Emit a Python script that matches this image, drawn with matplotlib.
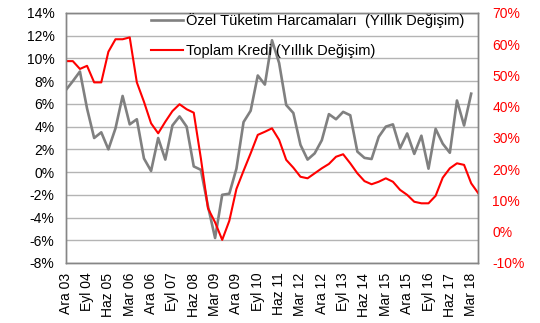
import numpy as np
import matplotlib.pyplot as plt

plt.rcParams['font.family'] = ['Liberation Sans', 'DejaVu Sans']

# quarterly series, Dec 2003 onwards
tuketim = [7.2, 8.0, 8.85, 5.6, 3.0, 3.5, 2.0, 3.85, 6.7, 4.2,
           4.65, 1.2, 0.1, 3.0, 1.1, 4.1, 4.9, 4.0, 0.5, 0.2,
           -3.0, -5.8, -2.0, -1.9, 0.3, 4.4, 5.4, 8.5, 7.7, 11.6,
           9.6, 5.9, 5.2, 2.4, 1.1, 1.65, 2.8, 5.1, 4.65, 5.3,
           5.0, 1.8, 1.25, 1.15, 3.1, 4.0, 4.2, 2.1, 3.4, 1.6,
           3.2, 0.3, 3.8, 2.5, 1.7, 6.3, 4.1, 6.9]
kredi = [54.6, 54.6, 52.1, 53.1, 47.8, 47.8, 57.6, 61.6, 61.6, 62.2,
         47.8, 41.6, 34.7, 31.5, 35.2, 38.6, 40.8, 39.2, 38.1, 23.5,
         7.5, 3.0, -2.6, 3.5, 13.7, 19.5, 25.1, 31.0, 32.0, 33.1,
         29.4, 23.0, 20.5, 17.6, 17.1, 18.7, 20.3, 21.7, 24.0, 24.8,
         21.9, 18.7, 16.2, 15.2, 16.0, 17.1, 16.0, 13.4, 11.8, 9.6,
         9.1, 9.1, 11.5, 17.3, 20.3, 21.9, 21.4, 15.5, 12.3]
etiketler = ['Ara 03', 'Eyl 04', 'Haz 05', 'Mar 06', 'Ara 06', 'Eyl 07',
             'Haz 08', 'Mar 09', 'Ara 09', 'Eyl 10', 'Haz 11', 'Mar 12',
             'Ara 12', 'Eyl 13', 'Haz 14', 'Mar 15', 'Ara 15', 'Eyl 16',
             'Haz 17', 'Mar 18']

fig = plt.figure(figsize=(5.4, 3.23), dpi=100)
ax = fig.add_axes([65.7/540, 1-263/323, (478.3-65.7)/540, 250/323])
ax2 = ax.twinx()

border = '#868686'
ax.set_ylim(-8, 14)
ax.set_yticks(np.arange(-8, 15, 2))
ax.set_yticklabels(['%d%%' % v for v in range(-8, 15, 2)])
ax.set_xlim(0, len(kredi) - 1)
ax.set_xticks(np.arange(0, 3*len(etiketler), 3))
ax.set_xticklabels(etiketler, rotation=90)
ax.grid(axis='y', color='#b4b4b4', lw=1.0)
ax.set_axisbelow(True)

ax2.set_ylim(-10, 70)
ax2.set_yticks(np.arange(-10, 71, 10))
ax2.set_yticklabels(['%d%%' % v for v in range(-10, 71, 10)])

ax.tick_params(axis='y', length=0, pad=8, labelsize=10, colors='#000000')
ax.tick_params(axis='x', length=0, pad=7, labelsize=10)
ax2.tick_params(axis='y', length=0, pad=10, labelsize=10, colors='#ff0000')
for a in (ax, ax2):
    for s in a.spines.values():
        s.set_color(border)
        s.set_linewidth(1.0)

l1, = ax.plot(range(len(tuketim)), tuketim, color='#808080', lw=1.9,
              label='Özel Tüketim Harcamaları  (Yıllık Değişim)')
l2, = ax2.plot(range(len(kredi)), kredi, color='#ff0000', lw=1.5,
               label='Toplam Kredi (Yıllık Değişim)')

ax2.legend(handles=[l1, l2], loc='upper left', bbox_to_anchor=(0.206, 0.998),
           frameon=False, fontsize=10.5, handlelength=2.2, handletextpad=0.25,
           labelspacing=1.09, borderpad=0, borderaxespad=0)

fig.savefig('out.png', dpi=100)
